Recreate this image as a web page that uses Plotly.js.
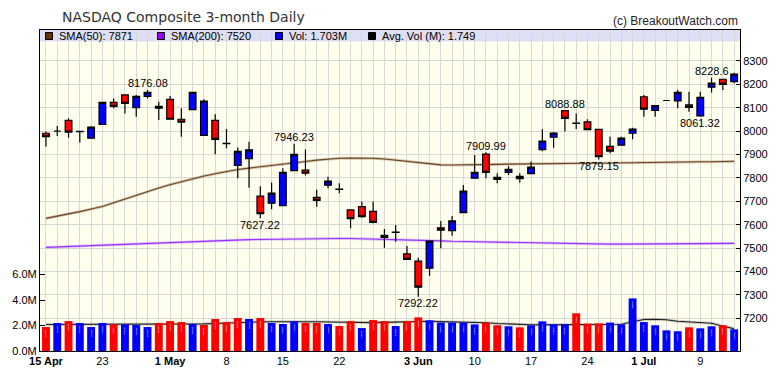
<!DOCTYPE html>
<html>
<head>
<meta charset="utf-8">
<script src="https://cdn.plot.ly/plotly-3.0.1.min.js"></script>
<style>
html,body{margin:0;padding:0;background:#ffffff;}
#chart{width:780px;height:376px;}
</style>
</head>
<body>
<div id="chart"></div>
<script>
// ---- data ----
const dates = [
  '2019-04-15','2019-04-16','2019-04-17','2019-04-18','2019-04-22','2019-04-23','2019-04-24','2019-04-25','2019-04-26','2019-04-29',
  '2019-04-30','2019-05-01','2019-05-02','2019-05-03','2019-05-06','2019-05-07','2019-05-08','2019-05-09','2019-05-10','2019-05-13',
  '2019-05-14','2019-05-15','2019-05-16','2019-05-17','2019-05-20','2019-05-21','2019-05-22','2019-05-23','2019-05-24','2019-05-28',
  '2019-05-29','2019-05-30','2019-05-31','2019-06-03','2019-06-04','2019-06-05','2019-06-06','2019-06-07','2019-06-10','2019-06-11',
  '2019-06-12','2019-06-13','2019-06-14','2019-06-17','2019-06-18','2019-06-19','2019-06-20','2019-06-21','2019-06-24','2019-06-25',
  '2019-06-26','2019-06-27','2019-06-28','2019-07-01','2019-07-02','2019-07-03','2019-07-05','2019-07-08','2019-07-09','2019-07-10',
  '2019-07-11','2019-07-12'
];
const openP = [
  7991,8000,8046,7999,7970,8029,8123,8155,8100,8149,
  8106,8136,8051,8092,7982,8046,7948,7854,7882,7722,
  7692,7681,7831,7833,7717,7769,7752,7663,7677,7657,
  7555,7568,7475,7444,7414,7587,7575,7652,7799,7902,
  7803,7824,7807,7818,7921,7974,8088,8034,8040,8008,
  7935,7940,7991,8147,8089,8131,8129,8112,8065,8188,
  8222,8212
];
const highP = [
  7998,8022,8055,8000,8021,8125,8140,8155,8155,8176.08,
  8126,8150,8098,8166,8136,8072,8009,7930,7955,7764,
  7780,7841,7946.23,7922,7749,7805,7777,7663,7699,7699,
  7582,7599,7509,7459,7530,7616,7637,7770,7898,7909.99,
  7820,7851,7820,7870,8008,7996,8088.88,8076,8051,8010,
  7976,7976,8015,8155,8110,8131,8176,8169,8169,8228.6,
  8222,8250
];
const lowP = [
  7934,7979,7972,7951,7970,8029,8098,8076,8062,8140,
  8048,8051,7976,8092,7982,7901,7927,7799,7758,7627.22,
  7666,7681,7831,7810,7677,7756,7734,7585,7630,7606,
  7502,7527,7452,7292.22,7382,7499,7553,7652,7799,7799,
  7777,7813,7780,7818,7914,7929,7998,8009,8006,7879.15,
  7906,7940,7965,8062,8062,8131,8098,8083,8061.32,8165,
  8176,8205
];
const closeP = [
  7977,8000,7996,7998,8017,8123,8106,8119,8149,8166,
  8098,8051,8038,8166,8128,7965,7947,7914,7920,7647,
  7735,7824,7901,7820,7704,7786,7751,7626,7634,7610,
  7546,7567,7452,7333,7530,7577,7616,7744,7824,7824,
  7794,7837,7797,7846,7958,7992,8055,8033,8006,7891,
  7915,7970,8009,8094,8109,8131,8166,8102,8145,8205,
  8200,8244
];
// volume in millions
const volume = [
  1.88,2.20,2.35,2.20,1.88,2.20,2.09,2.09,2.04,1.88,
  2.20,2.35,2.27,2.12,2.04,2.51,2.27,2.59,2.51,2.59,
  2.20,2.12,2.33,2.20,2.20,2.12,1.96,2.35,1.80,2.43,
  2.35,1.96,2.35,2.64,2.41,2.23,2.23,2.23,2.09,2.23,
  2.02,1.94,1.86,2.02,2.33,2.09,2.09,2.96,2.15,2.17,
  2.23,2.09,4.13,2.27,2.02,1.62,1.55,1.86,1.78,1.94,
  2.02,1.703
];
// 1 = up day (blue), 0 = down day (red)
const volUp = [
  0,1,0,1,1,1,0,1,1,1,
  0,0,0,1,0,0,0,0,1,0,
  1,1,1,0,0,1,0,0,1,0,
  0,1,0,0,1,1,1,1,1,0,
  0,1,0,1,1,1,1,0,0,0,
  1,1,1,1,1,1,1,0,1,1,
  0,1
];
const avgVol = [
  2.08,2.08,2.09,2.09,2.08,2.08,2.08,2.09,2.09,2.08,
  2.08,2.09,2.10,2.11,2.13,2.16,2.20,2.24,2.27,2.29,
  2.30,2.31,2.31,2.31,2.30,2.28,2.26,2.24,2.23,2.23,
  2.25,2.28,2.32,2.33,2.33,2.31,2.29,2.28,2.27,2.22,
  2.16,2.11,2.08,2.06,2.05,2.05,2.06,2.07,2.08,2.08,
  2.09,2.10,2.30,2.47,2.49,2.45,2.33,2.27,2.25,2.18,
  1.95,1.749
];
const sma50 = [
  7627,7636,7646,7656,7667,7678,7694,7710,7727,7742,
  7757,7771,7784,7797,7808,7818,7828,7836,7842,7847,
  7852,7858,7864,7870,7876,7881,7884,7885,7885,7884,
  7881,7876,7869,7863,7859,7856,7855,7855,7856,7857,
  7858,7859,7860,7861,7861,7862,7862,7862,7863,7863,
  7864,7864,7865,7865,7866,7866,7867,7868,7869,7869,
  7870,7871
];
const sma200 = [
  7503,7505,7507,7509,7511,7513,7515,7517,7519,7521,
  7523,7525,7527,7529,7531,7532,7534,7535,7536,7537,
  7538,7539,7540,7540,7541,7541,7541,7541,7540,7540,
  7539,7538,7537,7535,7533,7531,7529,7528,7527,7526,
  7524,7523,7522,7521,7520,7519,7518,7518,7517,7517,
  7517,7517,7517,7517,7517,7518,7518,7518,7519,7519,
  7520,7520
];
const tickIdx    = [0, 5, 11, 16, 21, 26, 33, 38, 43, 48, 53, 58];
const tickLabels = ['15 Apr','23','1 May','8','15','22','3 Jun','10','17','24','1 Jul','9'];
const boldLabels = ['15 Apr','1 May','3 Jun','1 Jul'];
const priceTicks = [7200,7300,7400,7500,7600,7700,7800,7900,8000,8100,8200,8300];
const volTicks   = [0,2,4,6];
const markIdx  = [9,19,22,33,39,46,49,58,59];
const markKind = ['H','L','H','L','H','H','L','L','H'];

// ---- build ----
const xIdx = dates.map((d,i)=>i);
const tickText = xIdx.map(i=>{
  const k = tickIdx.indexOf(i);
  if (k < 0) return '';
  const t = tickLabels[k];
  return boldLabels.includes(t) ? '<b>'+t+'</b>' : t;
});

const FONT = 'Liberation Sans, Arial, sans-serif';
const GRID = '#d8d8d8';
const VOLTOP = 25.2;
const PRANGE = [7060, 8432.5];

const traces = [
  {type:'scatter', mode:'lines', x:xIdx, y:avgVol, yaxis:'y', line:{color:'rgba(90,90,90,0.3)', width:2.8}, hoverinfo:'skip'},
  {type:'scatter', mode:'lines', x:xIdx, y:avgVol, yaxis:'y', line:{color:'#222222', width:1.1}, text:dates, hoverinfo:'text+y'},
  {type:'bar', x:xIdx, y:volume, yaxis:'y2', width:0.7,
   marker:{color: volUp.map(u=>u ? '#0000ff' : '#ff0000'), line:{width:0}}, text:dates, hoverinfo:'text+y'},
  {type:'scatter', mode:'lines', x:xIdx, y:sma200, yaxis:'y3', line:{color:'rgba(175,110,255,0.4)', width:2.8}, hoverinfo:'skip'},
  {type:'scatter', mode:'lines', x:xIdx, y:sma200, yaxis:'y3', line:{color:'#9933ff', width:1.1}, hoverinfo:'skip'},
  {type:'scatter', mode:'lines', x:xIdx, y:sma50, yaxis:'y3', line:{color:'rgba(150,110,70,0.4)', width:2.8}, hoverinfo:'skip'},
  {type:'scatter', mode:'lines', x:xIdx, y:sma50, yaxis:'y3', line:{color:'#6b4423', width:1.1}, hoverinfo:'skip'},
  {type:'candlestick', x:xIdx, open:openP, high:highP, low:lowP, close:closeP, yaxis:'y4',
   whiskerwidth:0,
   increasing:{line:{color:'#000000', width:1.2}, fillcolor:'#0000ff'},
   decreasing:{line:{color:'#000000', width:1.2}, fillcolor:'#ff0000'},
   text:dates, hoverinfo:'text'}
];

// paper coordinates helpers (plot area: x 40..740, y 30..351)
const px = v => (v-40)/700;
const py = v => (351-v)/321;

const legendItems = [
  {color:'#663300', sq:45.5, tx:57, text:'SMA(50): ' + sma50[sma50.length-1].toFixed(0)},
  {color:'#9900ff', sq:157.5, tx:169, text:'SMA(200): ' + sma200[sma200.length-1].toFixed(0)},
  {color:'#0000ff', sq:275.5, tx:287, text:'Vol: ' + volume[volume.length-1].toFixed(3) + 'M'},
  {color:'#000000', sq:368.5, tx:380, text:'Avg. Vol (M): ' + avgVol[avgVol.length-1].toFixed(3)}
];

const shapes = [
  {type:'rect', xref:'paper', yref:'paper', x0:0, x1:1, y0:py(41.5), y1:1, fillcolor:'#dedef4', line:{width:0}, layer:'below'}
];
legendItems.forEach(it=>{
  shapes.push({type:'rect', xref:'paper', yref:'paper', x0:px(it.sq), x1:px(it.sq+7), y0:py(39.5), y1:py(32.5),
    fillcolor:it.color, line:{color:'#000000', width:1}, layer:'above'});
});

const annotations = [];
legendItems.forEach(it=>{
  annotations.push({xref:'paper', yref:'paper', x:px(it.tx), y:py(36.3), xanchor:'left', yanchor:'middle',
    text:it.text, showarrow:false, font:{family:FONT, size:11, color:'#000000'}});
});
annotations.push({xref:'paper', yref:'paper', x:1, y:py(21), xanchor:'right', yanchor:'middle',
  text:'(c) BreakoutWatch.com', showarrow:false, font:{family:FONT, size:12, color:'#222222'}});
markIdx.forEach((i,k)=>{
  const isHigh = markKind[k] === 'H';
  const v = isHigh ? highP[i] : lowP[i];
  annotations.push({xref:'x', yref:'y4', x:i, y:v, text:String(v), showarrow:false,
    xanchor:'center', yanchor:'middle', yshift: isHigh ? 6.5 : -6.5,
    font:{family:FONT, size:11, color:'#000000'}});
});

const layout = {
  width:780, height:376,
  margin:{l:40, r:40, t:30, b:25, pad:0},
  paper_bgcolor:'#ffffff',
  plot_bgcolor:'#ffffee',
  showlegend:false,
  boxgap:0.15,
  bargap:0.3,
  hovermode:'closest',
  title:{text:'NASDAQ Composite 3-month Daily', xref:'container', yref:'container',
    x:62/780, xanchor:'left', y:1-17.5/376, yanchor:'middle',
    font:{family:'DejaVu Sans, Verdana, sans-serif', size:14, color:'#333333'}},
  xaxis:{range:[-0.53, 61.52], tickmode:'array', tickvals:xIdx, ticktext:tickText,
    showgrid:true, gridcolor:GRID, gridwidth:1, ticks:'', zeroline:false,
    showline:true, mirror:true, linecolor:'#000000', linewidth:1,
    rangeslider:{visible:false}, fixedrange:true,
    tickfont:{family:FONT, size:11, color:'#000000'}},
  yaxis:{range:[0, VOLTOP], tickmode:'array', tickvals:volTicks, ticktext:volTicks.map(v=>v.toFixed(1)+'M'),
    showgrid:false, zeroline:false, ticks:'inside', ticklen:5, tickcolor:'#000000',
    showline:true, linecolor:'#000000', linewidth:1, fixedrange:true,
    tickfont:{family:FONT, size:11, color:'#000000'}},
  yaxis2:{overlaying:'y', range:[0, VOLTOP], visible:false, fixedrange:true},
  yaxis3:{overlaying:'y', side:'right', range:PRANGE, tickmode:'array', tickvals:priceTicks,
    ticktext:priceTicks.map(String),
    showgrid:true, gridcolor:GRID, gridwidth:1, zeroline:false,
    ticks:'inside', ticklen:4, tickcolor:'#000000',
    showline:true, linecolor:'#000000', linewidth:1, fixedrange:true,
    tickfont:{family:FONT, size:11, color:'#000000'}},
  yaxis4:{overlaying:'y', range:PRANGE, visible:false, fixedrange:true},
  shapes:shapes,
  annotations:annotations
};

Plotly.newPlot('chart', traces, layout, {displayModeBar:false, staticPlot:false});
</script>
</body>
</html>
